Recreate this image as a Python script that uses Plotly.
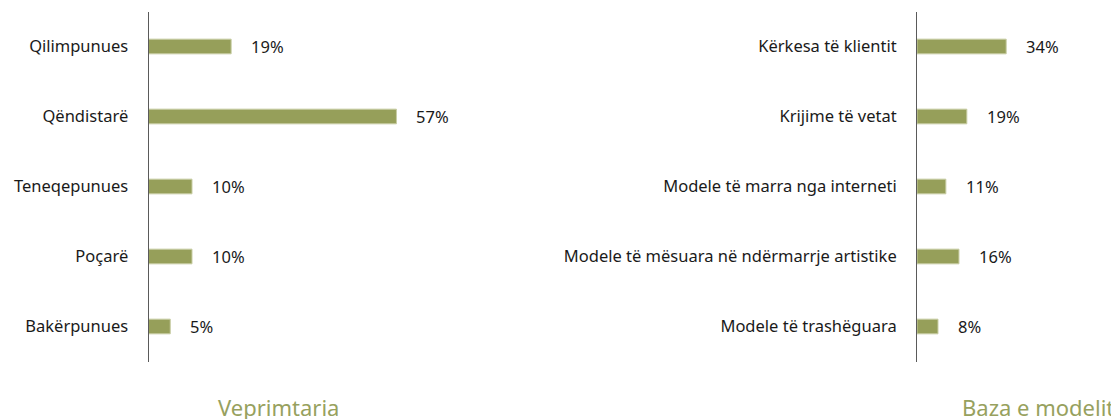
import plotly.graph_objects as go

# ---- data ----
left_categories = ["Qilimpunues", "Qëndistarë", "Teneqepunues", "Poçarë", "Bakërpunues"]
left_values = [19, 57, 10, 10, 5]
left_title = "Veprimtaria"

right_categories = ["Kërkesa të klientit", "Krijime të vetat", "Modele të marra nga interneti",
                    "Modele të mësuara në ndërmarrje artistike", "Modele të trashëguara"]
right_values = [34, 19, 11, 16, 8]
right_title = "Baza e modelit"

# ---- style ----
OFF = 8  # page body margin
W, H = 1119 - OFF, 419 - OFF
BAR = "#969F5A"
BAR_EDGE = "#C8CDA4"
TITLE_C = "#97A15E"
FONT = "Noto Sans"
TXT = "#1A1A1A"
FS = 16.5

def px_x(p):
    return (p - OFF) / W

def px_y(p):
    return 1 - (p - OFF) / H

fig = go.Figure()

fig.add_trace(go.Bar(
    x=left_values, y=left_categories, orientation="h",
    marker=dict(color=BAR, line=dict(color=BAR_EDGE, width=1)),
    width=0.21, xaxis="x", yaxis="y", hoverinfo="skip",
))
fig.add_trace(go.Bar(
    x=right_values, y=right_categories, orientation="h",
    marker=dict(color=BAR, line=dict(color=BAR_EDGE, width=1)),
    width=0.21, xaxis="x2", yaxis="y2", hoverinfo="skip",
))

ydom = [px_y(361.5), px_y(11.5)]
axis_y_common = dict(
    type="category", range=[4.5, -0.5], showline=True, linecolor="#5A5A5A", linewidth=1,
    showgrid=False, zeroline=False, ticks="", ticklabelstandoff=16,
    tickfont=dict(family=FONT, size=FS, color=TXT), domain=ydom,
)
axis_x_common = dict(visible=False, showgrid=False, zeroline=False)

fig.update_layout(
    width=W, height=H, margin=dict(l=0, r=0, t=0, b=0),
    paper_bgcolor="white", plot_bgcolor="white", showlegend=False,
    font=dict(family=FONT, size=FS, color=TXT),
    xaxis=dict(**axis_x_common, domain=[px_x(148.5), px_x(409.5)], range=[0, 60], anchor="y"),
    yaxis=dict(**axis_y_common, anchor="x", categoryarray=left_categories, categoryorder="array"),
    xaxis2=dict(**axis_x_common, domain=[px_x(917), 1.0], range=[0, 77], anchor="y2"),
    yaxis2=dict(**axis_y_common, anchor="x2", categoryarray=right_categories, categoryorder="array"),
)

ann = []
for c, v in zip(left_categories, left_values):
    ann.append(dict(x=v, y=c, xref="x", yref="y", text=f"{v}%", showarrow=False,
                    xanchor="left", xshift=18, font=dict(family=FONT, size=FS, color=TXT)))
for c, v in zip(right_categories, right_values):
    ann.append(dict(x=v, y=c, xref="x2", yref="y2", text=f"{v}%", showarrow=False,
                    xanchor="left", xshift=18, font=dict(family=FONT, size=FS, color=TXT)))

ann.append(dict(x=px_x(278), y=0, xref="paper", yref="paper", text=left_title, showarrow=False,
                xanchor="center", yanchor="bottom", yshift=-5,
                font=dict(family=FONT, size=22, color=TITLE_C)))
ann.append(dict(x=px_x(1116), y=0, xref="paper", yref="paper", text=right_title, showarrow=False,
                xanchor="right", yanchor="bottom", yshift=-5,
                font=dict(family=FONT, size=22, color=TITLE_C)))
fig.update_layout(annotations=ann)

fig.write_html("out.html")
